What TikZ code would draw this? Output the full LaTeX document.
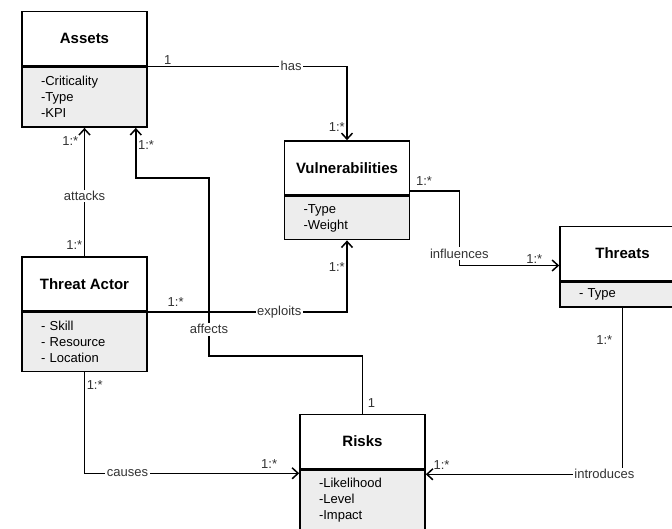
\documentclass[tikz,border=0pt]{standalone}
\usepackage{fontspec}
\setmainfont{Liberation Sans}
\usetikzlibrary{arrows.meta}

\begin{document}
\begin{tikzpicture}[x=1pt, y=-1pt,
    classname/.style={draw, line width=1.6pt, minimum width=125pt, minimum height=54pt, inner sep=0pt, font=\bfseries\fontsize{15}{17}\selectfont},
    classattr/.style={draw, line width=1.6pt, fill=black!7, anchor=north, minimum width=125pt, text width=87pt, inner xsep=19pt, inner ysep=0pt, align=left, font=\fontsize{13}{16}\selectfont},
    assoc/.style={line width=1.5pt, -{Straight Barb[length=6pt,width=11pt]}},
    lbl/.style={font=\fontsize{13}{14}\selectfont, inner sep=1.5pt, text=black!80},
    cut/.style={lbl, fill=white}]

        \useasboundingbox (0,0) rectangle (672,529);

        \node[classname] (assets)  at (84.5,38.5)  {Assets};
        \node[classname] (vuln)    at (347,168)    {Vulnerabilities};
        \node[classname] (ta)      at (84.5,284)   {Threat Actor};
        \node[classname] (risks)   at (362.5,441.5) {Risks};
        \node[classname] (threats) at (622.5,253.5) {Threats};

        \node[classattr, minimum height=60pt] (assets-attr)  at (assets.south)  {-Criticality\\-Type\\-KPI};
        \node[classattr, minimum height=43pt] (vuln-attr)    at (vuln.south)    {-Type\\-Weight};
        \node[classattr, minimum height=59pt] (ta-attr)      at (ta.south)      {- Skill\\- Resource\\- Location};
        \node[classattr, minimum height=60pt] (risks-attr)   at (risks.south)   {-Likelihood\\-Level\\-Impact};
        \node[classattr, minimum height=25pt] (threats-attr) at (threats.south) {- Type};

        \coordinate (assets-in)  at ([xshift=-12pt]assets-attr.south east);
        \coordinate (vuln-out)   at ([yshift=5pt]vuln.south east);
        \coordinate (threats-in) at ([yshift=-12pt]threats.west);
        \coordinate (risks-in-l) at ([yshift=-4pt]risks-attr.north west);
        \coordinate (risks-in-r) at ([yshift=-5pt]risks-attr.north east);

        \draw[assoc] (assets-attr.north east) -| node[lbl, pos=0.05, above]{1} node[cut, pos=0.36]{has}
              node[lbl, pos=0.91, left]{1:*} (vuln.north);
        \draw[assoc] (ta.north) -- node[lbl, pos=0.09, left]{1:*} node[cut, pos=0.47]{attacks}
              node[lbl, pos=0.9, left=4pt]{1:*} (assets-attr.south);
        \draw[assoc] (risks.north) |- node[lbl, pos=0.09, right=3pt]{1} (209,356)
              -- node[cut, pos=0.15]{affects} (209,178)
              -| node[lbl, pos=0.83, right]{1:*} (assets-in);
        \draw[assoc] (ta-attr.north east) -| node[lbl, pos=0.07, above=3pt]{1:*} node[cut, pos=0.33]{exploits}
              node[lbl, pos=0.815, left]{1:*} (vuln-attr.south);
        \draw[assoc] (vuln-out) -- node[lbl, pos=0.28, above=3pt]{1:*} ++(49,0)
              |- node[cut, pos=0.42]{influences} node[lbl, pos=0.875, above]{1:*} (threats-in);
        \draw[assoc] (ta-attr.south) |- node[lbl, pos=0.064, right]{1:*} node[cut, pos=0.6]{causes}
              node[lbl, pos=0.93, above=3pt]{1:*} (risks-in-l);
        \draw[assoc] (threats-attr.south) |- node[lbl, pos=0.096, left=8pt]{1:*} node[cut, pos=0.546]{introduces}
              node[lbl, pos=0.96, above=3pt]{1:*} (risks-in-r);

\end{tikzpicture}
\end{document}
